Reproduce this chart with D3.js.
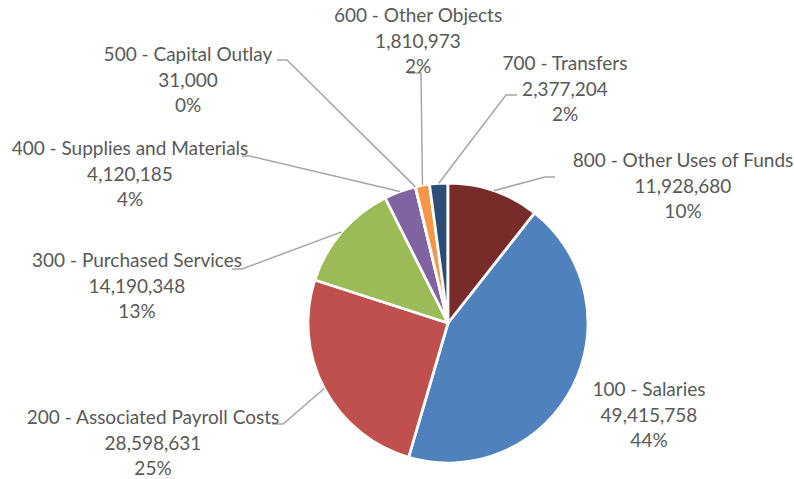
<!DOCTYPE html>
<html>
<head>
<meta charset="utf-8">
<script src="https://cdn.jsdelivr.net/npm/d3@7"></script>
<style>
  body { margin: 0; background: #fff; }
  text { font-family: Lato, "Open Sans", sans-serif; fill: #595959; }
</style>
</head>
<body>
<svg id="chart"></svg>
<script>
const width = 794;
const height = 479;

// data, in sheet order
const categories = ['100 - Salaries', '200 - Associated Payroll Costs', '300 - Purchased Services',
  '400 - Supplies and Materials', '500 - Capital Outlay', '600 - Other Objects',
  '700 - Transfers', '800 - Other Uses of Funds'];
const amounts = [49415758, 28598631, 14190348, 4120185, 31000, 1810973, 2377204, 11928680];
const percentLabels = ['44%', '25%', '13%', '4%', '0%', '2%', '2%', '10%'];
const colors = ['#4F81BD', '#C0504D', '#9BBB59', '#8064A2', '#4BACC6', '#F79646', '#2C4D75', '#772C2A'];

// label layout: centre x, first baseline, leader elbow and end (null = no leader)
const labelLayout = [
  {x: 649, y: 396, elbow: null, end: null},
  {x: 153, y: 424, elbow: [283, 424], end: [272, 424]},
  {x: 137, y: 267, elbow: [242, 269], end: [232, 269]},
  {x: 130, y: 155, elbow: [250, 156], end: [242, 156]},
  {x: 188, y: 61, elbow: [287, 60], end: [277, 60]},
  {x: 418, y: 22, elbow: [421, 73], end: [408, 73]},
  {x: 565, y: 70, elbow: [506, 95], end: [517, 95]},
  {x: 683, y: 167, elbow: [545, 177], end: [555, 177]}
];

const cx = 448, cy = 323, radius = 140;
const lineGap = 25.5;

const data = categories.map((c, i) => ({name: c, value: amounts[i], pct: percentLabels[i], i: i}));
const total = d3.sum(amounts);
// first slice placed so the last one (800) starts at 12 o'clock
const firstAngle = 2 * Math.PI * amounts[amounts.length - 1] / total;

const svg = d3.select('#chart')
  .attr('width', width)
  .attr('height', height);

const pie = d3.pie()
  .sort(null)
  .value(d => d.value)
  .startAngle(firstAngle)
  .endAngle(firstAngle + 2 * Math.PI);

const arc = d3.arc().innerRadius(0).outerRadius(radius);
const arcs = pie(data);

const g = svg.append('g').attr('transform', `translate(${cx},${cy})`);

g.selectAll('path')
  .data(arcs)
  .enter()
  .append('path')
  .attr('d', arc)
  .attr('fill', d => colors[d.data.i])
  .attr('stroke', '#fff')
  .attr('stroke-width', 2.75)
  .attr('stroke-linejoin', 'round');

// leader lines
const line = d3.line();
svg.append('g')
  .selectAll('path')
  .data(arcs.filter(d => labelLayout[d.data.i].elbow))
  .enter()
  .append('path')
  .attr('d', d => {
    const a = (d.startAngle + d.endAngle) / 2;
    const p0 = [cx + radius * Math.sin(a), cy - radius * Math.cos(a)];
    const lay = labelLayout[d.data.i];
    return line([p0, lay.elbow, lay.end]);
  })
  .attr('fill', 'none')
  .attr('stroke', '#A6A6A6')
  .attr('stroke-width', 1.5);

// labels
const fmt = d3.format(',');
const labels = svg.append('g')
  .selectAll('text')
  .data(data)
  .enter()
  .append('text')
  .attr('text-anchor', 'middle')
  .attr('font-size', 19)
  .attr('x', d => labelLayout[d.i].x)
  .attr('y', d => labelLayout[d.i].y);

labels.each(function(d) {
  const t = d3.select(this);
  const lines = [d.name, fmt(d.value), d.pct];
  lines.forEach((s, k) => {
    t.append('tspan')
      .attr('x', labelLayout[d.i].x)
      .attr('dy', k === 0 ? 0 : lineGap)
      .text(s);
  });
});
</script>
</body>
</html>
